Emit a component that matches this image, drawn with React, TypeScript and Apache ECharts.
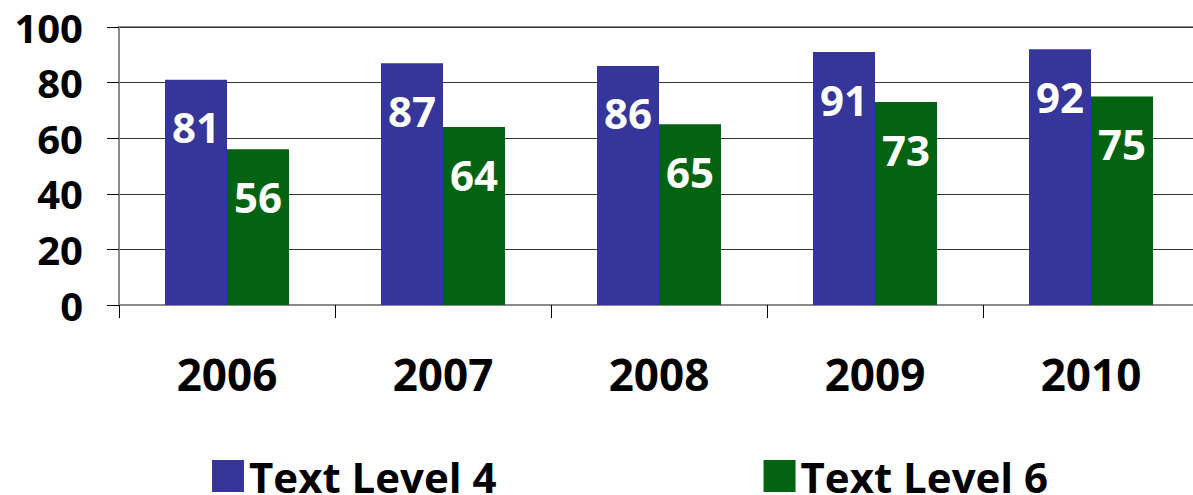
import React, { useEffect, useRef } from "react";
import * as echarts from "echarts";

const categories = ["2006", "2007", "2008", "2009", "2010"];
const level4 = [81, 87, 86, 91, 92];
const level6 = [56, 64, 65, 73, 75];
const seriesNames = ["Text Level 4", "Text Level 6"];
const colors = ["#35359a", "#036311"];

const FONT = "'Open Sans', 'Noto Sans', sans-serif";

export default function App() {
  const ref = useRef<HTMLDivElement>(null);
  useEffect(() => {
    if (!ref.current) return;
    const chart = echarts.init(ref.current, undefined, { renderer: "svg" });
    const label = {
      show: true,
      position: "insideTop" as const,
      distance: 26,
      color: "#ffffff",
      fontFamily: FONT,
      fontWeight: "bold" as const,
      fontSize: 42,
    };
    chart.setOption({
      animation: false,
      backgroundColor: "#ffffff",
      textStyle: { fontFamily: FONT },
      grid: {
        left: 119,
        top: 27,
        width: 1080,
        height: 278,
        show: true,
        borderColor: "#8a8a8a",
        borderWidth: 2,
      },
      legend: {
        top: 450,
        left: 207,
        itemWidth: 32,
        itemHeight: 32,
        itemGap: 267,
        icon: "rect",
        textStyle: {
          fontFamily: FONT,
          fontWeight: "bold",
          fontSize: 42,
          lineHeight: 42,
          color: "#000",
        },
        data: seriesNames,
      },
      xAxis: {
        type: "category",
        data: categories,
        axisLine: { show: true, lineStyle: { color: "#8a8a8a", width: 2 } },
        axisTick: { show: true, length: 13, alignWithLabel: false, lineStyle: { color: "#000", width: 1 } },
        axisLabel: {
          margin: 47,
          color: "#000",
          fontFamily: FONT,
          fontWeight: "bold",
          fontSize: 44,
        },
      },
      yAxis: {
        type: "value",
        min: 0,
        max: 100,
        interval: 20,
        axisLine: { show: true, lineStyle: { color: "#8a8a8a", width: 2 } },
        axisTick: { show: true, length: 12, lineStyle: { color: "#000", width: 1 } },
        axisLabel: {
          margin: 36,
          color: "#000",
          fontFamily: FONT,
          fontWeight: "bold",
          fontSize: 40,
        },
        splitLine: { show: true, lineStyle: { color: "#333", width: 1 } },
      },
      series: [
        {
          name: seriesNames[0],
          type: "bar",
          data: level4,
          itemStyle: { color: colors[0] },
          barGap: "0%",
          barCategoryGap: "42.6%",
          label,
        },
        {
          name: seriesNames[1],
          type: "bar",
          data: level6,
          itemStyle: { color: colors[1] },
          barGap: "0%",
          barCategoryGap: "42.6%",
          label,
        },
      ],
    });
    return () => chart.dispose();
  }, []);
  return (
    <div style={{ position: "absolute", left: 0, top: 0, width: 1193, height: 495, overflow: "hidden" }}>
      <div ref={ref} style={{ width: 1200, height: 495 }} />
    </div>
  );
}
